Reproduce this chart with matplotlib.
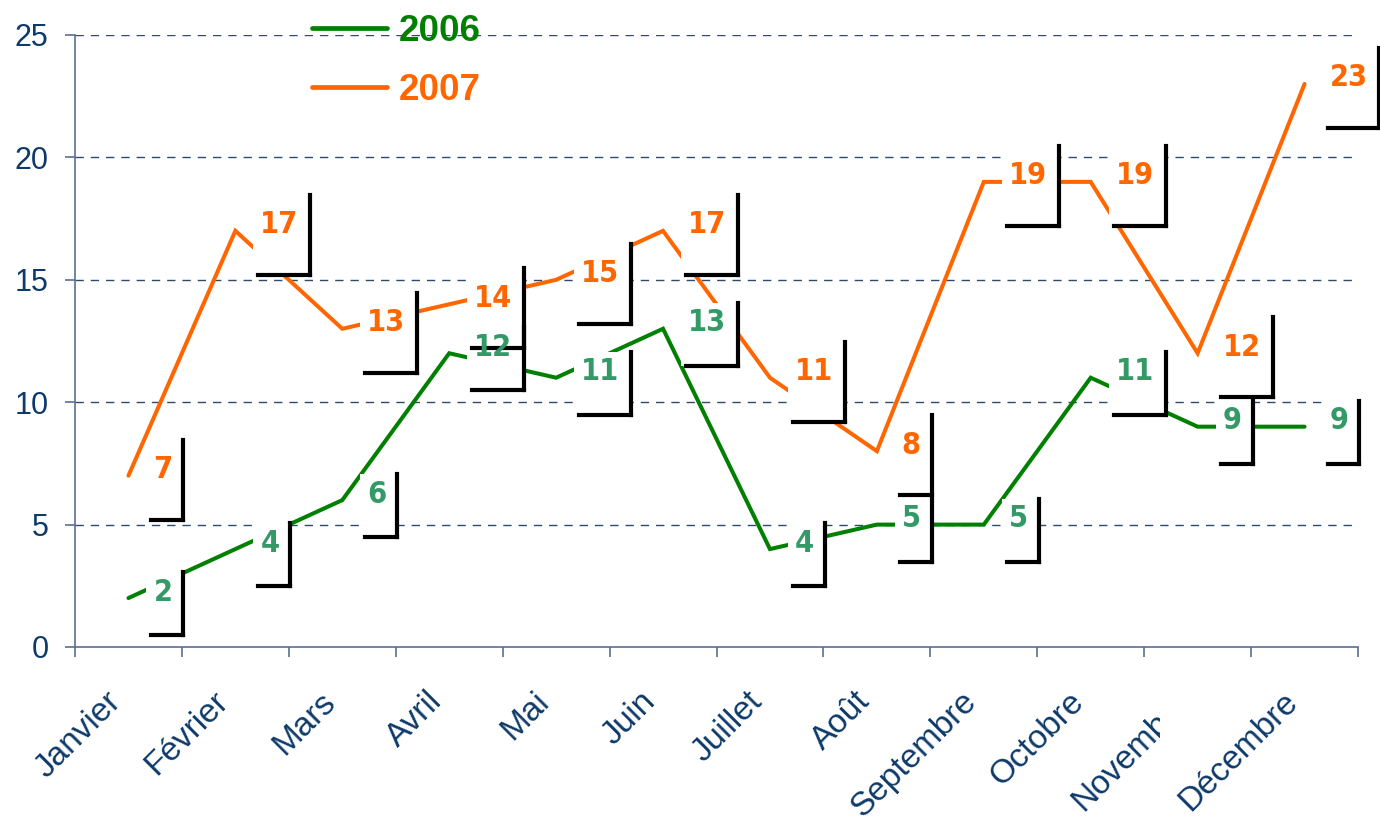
import matplotlib
matplotlib.use("Agg")
import matplotlib.pyplot as plt
from matplotlib.patches import Rectangle
from matplotlib.transforms import Bbox, TransformedBbox, ScaledTranslation

months = ["Janvier", "Février", "Mars", "Avril", "Mai", "Juin", "Juillet",
          "Août", "Septembre", "Octobre", "Novembre", "Décembre"]
values_2006 = [2, 4, 6, 12, 11, 13, 4, 5, 5, 11, 9, 9]
values_2007 = [7, 17, 13, 14, 15, 17, 11, 8, 19, 19, 12, 23]
y_ticks = [0, 5, 10, 15, 20, 25]

GREEN = "#008000"
GREEN_TXT = "#339966"
ORANGE = "#FF6600"
NAVY = "#0E3A6A"
AXIS = "#5A6F8F"

W, H = 1380, 825
fig = plt.figure(figsize=(W / 100, H / 100), dpi=100)
ax = fig.add_axes([75 / W, 1 - 647 / H, (1358 - 75) / W, (647 - 35) / H])

x = list(range(len(months)))
ax.plot(x, values_2006, color=GREEN, lw=2.9, label="2006", zorder=2,
        solid_capstyle="round", solid_joinstyle="miter")
ax.plot(x, values_2007, color=ORANGE, lw=2.9, label="2007", zorder=2,
        solid_capstyle="round", solid_joinstyle="miter")

ax.set_xlim(-0.5, len(months) - 0.5)
ax.set_ylim(0, 25)

# pixel -> data unit factors
px_x = 1 / 107.0
px_y = 25 / 612.0


def label_points(vals, color, top_off, bot_off):
    for i, v in enumerate(vals):
        n = len(str(v))
        left = i + 18 * px_x
        right = i + (35 + 20 * n) * px_x
        top = v + top_off * px_y
        bottom = v - bot_off * px_y
        ax.add_patch(Rectangle((left, bottom), right - left, top - bottom,
                               facecolor="white", edgecolor="none",
                               zorder=3, clip_on=False))
        ax.plot([right, right], [top, bottom], color="black", lw=3,
                zorder=4, clip_on=False, solid_capstyle="projecting")
        ax.plot([i + 23 * px_x, right], [bottom, bottom], color="black",
                lw=3, zorder=4, clip_on=False, solid_capstyle="projecting")
        ax.text(i + 25 * px_x, v + 6 * px_y, str(v), color=color,
                fontsize=22, fontweight="bold", family="DejaVu Sans",
                fontstretch="condensed",
                ha="left", va="center", zorder=5, clip_on=False)


label_points(values_2006, GREEN_TXT, 26, 37)
label_points(values_2007, ORANGE, 36, 44)

# grid
for yv in y_ticks[1:]:
    ax.axhline(yv, color="#2F4A6E", lw=1, ls=(0, (6, 5)), zorder=1)

for s in ["top", "right"]:
    ax.spines[s].set_visible(False)
for s in ["left", "bottom"]:
    ax.spines[s].set_color(AXIS)
    ax.spines[s].set_linewidth(1.2)

ax.set_yticks(y_ticks)
ax.set_yticklabels([str(t) for t in y_ticks])
ax.tick_params(axis="y", length=7, width=1.2, color=AXIS, pad=12,
               labelsize=22, labelcolor=NAVY)

ax.set_xticks([i - 0.5 for i in range(len(months) + 1)])
ax.set_xticklabels([])
ax.set_xticks(x, minor=True)
ax.set_xticklabels(months, minor=True, rotation=45, ha="right", va="center",
                   rotation_mode="anchor")
ax.tick_params(axis="x", which="major", length=7, width=1.2, color=AXIS)
ax.tick_params(axis="x", which="minor", length=0, pad=36, labelsize=24,
               labelcolor=NAVY)
shift = ScaledTranslation(-12 / 100, 0, fig.dpi_scale_trans)
for t in ax.get_xticklabels(minor=True):
    t.set_family(["Liberation Sans", "DejaVu Sans"])
    t.set_transform(t.get_transform() + shift)
for t in ax.get_yticklabels():
    t.set_family(["Liberation Sans", "DejaVu Sans"])

# "Novembre" is cut off in the original
nov = ax.get_xticklabels(minor=True)[10]
nov.set_clip_on(True)
nov.set_clip_box(TransformedBbox(Bbox([[0, 0], [1160 / W, 1]]), fig.transFigure))

leg = ax.legend(loc="upper left", bbox_to_anchor=(312 / W, 1 - 14 / H),
                bbox_transform=fig.transFigure, frameon=False,
                handlelength=2.05, handletextpad=0.3, labelspacing=0.65,
                borderpad=0, borderaxespad=0, labelcolor="linecolor",
                prop={"family": "Liberation Sans", "weight": "bold",
                      "size": 26.5})
for line in leg.get_lines():
    line.set_linewidth(3.4)

fig.savefig("out.png", dpi=100)
